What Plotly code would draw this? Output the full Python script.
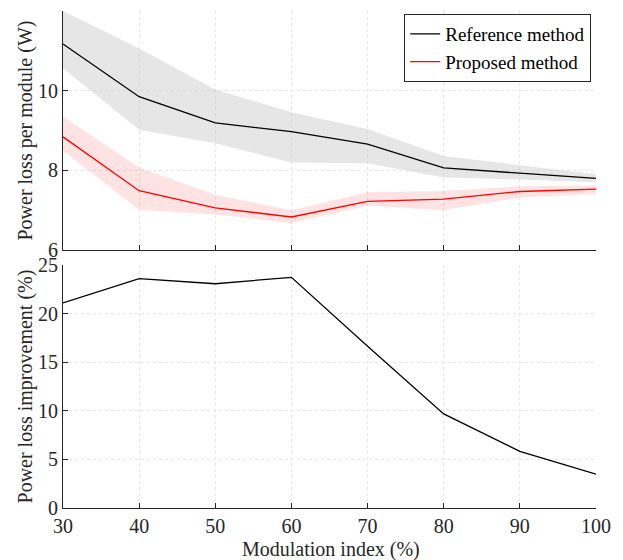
import plotly.graph_objects as go

modulation = [30, 40, 50, 60, 70, 80, 90, 100]
ref_mean = [11.17, 9.85, 9.19, 8.97, 8.66, 8.06, 7.93, 7.80]
ref_upper = [12.0, 11.06, 10.03, 9.46, 9.04, 8.36, 8.13, 7.90]
ref_lower = [10.56, 9.02, 8.68, 8.20, 8.18, 7.82, 7.77, 7.70]
prop_mean = [8.84, 7.49, 7.06, 6.83, 7.22, 7.28, 7.47, 7.53]
prop_upper = [9.35, 8.07, 7.39, 7.00, 7.45, 7.48, 7.60, 7.62]
prop_lower = [8.49, 7.01, 6.89, 6.68, 7.11, 7.00, 7.32, 7.41]
improvement = [21.1, 23.59, 23.07, 23.73, 16.63, 9.68, 5.82, 3.48]

x_ticks = [30, 40, 50, 60, 70, 80, 90, 100]
top_ticks = [6, 8, 10, 12]
bottom_ticks = [0, 5, 10, 15, 20, 25]

title_top = "Power loss per module (W)"
title_bottom = "Power loss improvement (%)"
title_x = "Modulation index (%)"

FONT = "Liberation Serif"
AX = "#262626"
GRID = "#e6e6e6"

fig = go.Figure()

fig.add_trace(go.Scatter(
    x=modulation + modulation[::-1], y=ref_upper + ref_lower[::-1],
    fill="toself", fillcolor="rgba(200,200,200,0.45)", line=dict(width=0),
    mode="lines", showlegend=False, hoverinfo="skip", xaxis="x", yaxis="y"))
fig.add_trace(go.Scatter(
    x=modulation + modulation[::-1], y=prop_upper + prop_lower[::-1],
    fill="toself", fillcolor="rgba(255,0,0,0.11)", line=dict(width=0),
    mode="lines", showlegend=False, hoverinfo="skip", xaxis="x", yaxis="y"))
fig.add_trace(go.Scatter(
    x=modulation, y=ref_mean, mode="lines", name="Reference method",
    line=dict(color="black", width=1.3), xaxis="x", yaxis="y"))
fig.add_trace(go.Scatter(
    x=modulation, y=prop_mean, mode="lines", name="Proposed method",
    line=dict(color="red", width=1.3), xaxis="x", yaxis="y"))
fig.add_trace(go.Scatter(
    x=modulation, y=improvement, mode="lines", showlegend=False,
    line=dict(color="black", width=1.3), xaxis="x2", yaxis="y2"))

axis_common = dict(
    showline=True, linecolor=AX, linewidth=1, mirror=False,
    ticks="inside", ticklen=5, tickcolor=AX, tickwidth=1,
    showgrid=True, gridcolor=GRID, griddash="dot", gridwidth=1,
    zeroline=False, automargin=False,
    tickfont=dict(family=FONT, size=20, color=AX),
)

fig.update_layout(
    width=615, height=552,
    margin=dict(l=55, r=27, t=3, b=52),
    paper_bgcolor="white", plot_bgcolor="white",
    font=dict(family=FONT, size=20, color=AX),
    xaxis=dict(axis_common, domain=[0, 1], range=[30, 100], tickvals=x_ticks,
               showticklabels=False, anchor="y"),
    yaxis=dict(axis_common, domain=[0.519, 1], range=[6, 12], tickvals=top_ticks, anchor="x"),
    xaxis2=dict(axis_common, domain=[0, 1], range=[30, 100], tickvals=x_ticks, anchor="y2"),
    yaxis2=dict(axis_common, domain=[0, 0.489], range=[0, 25], tickvals=bottom_ticks, anchor="x2"),
    legend=dict(x=0.991, y=0.994, xanchor="right", yanchor="top",
                bgcolor="white", bordercolor=AX, borderwidth=1,
                font=dict(family=FONT, size=19, color="black"),
                tracegroupgap=0, itemwidth=30),
    showlegend=True,
)

fig.add_annotation(text=title_top, xref="paper", yref="paper", x=-0.0694, y=0.7595,
                   xanchor="center", yanchor="middle", textangle=-90, showarrow=False,
                   font=dict(family=FONT, size=20, color=AX))
fig.add_annotation(text=title_bottom, xref="paper", yref="paper", x=-0.0713, y=0.2445,
                   xanchor="center", yanchor="middle", textangle=-90, showarrow=False,
                   font=dict(family=FONT, size=20, color=AX))
fig.add_annotation(text=title_x, xref="paper", yref="paper", x=0.502, y=-0.0825,
                   xanchor="center", yanchor="middle", showarrow=False,
                   font=dict(family=FONT, size=20, color=AX))

fig.write_html("out.html", config={"displayModeBar": False})
